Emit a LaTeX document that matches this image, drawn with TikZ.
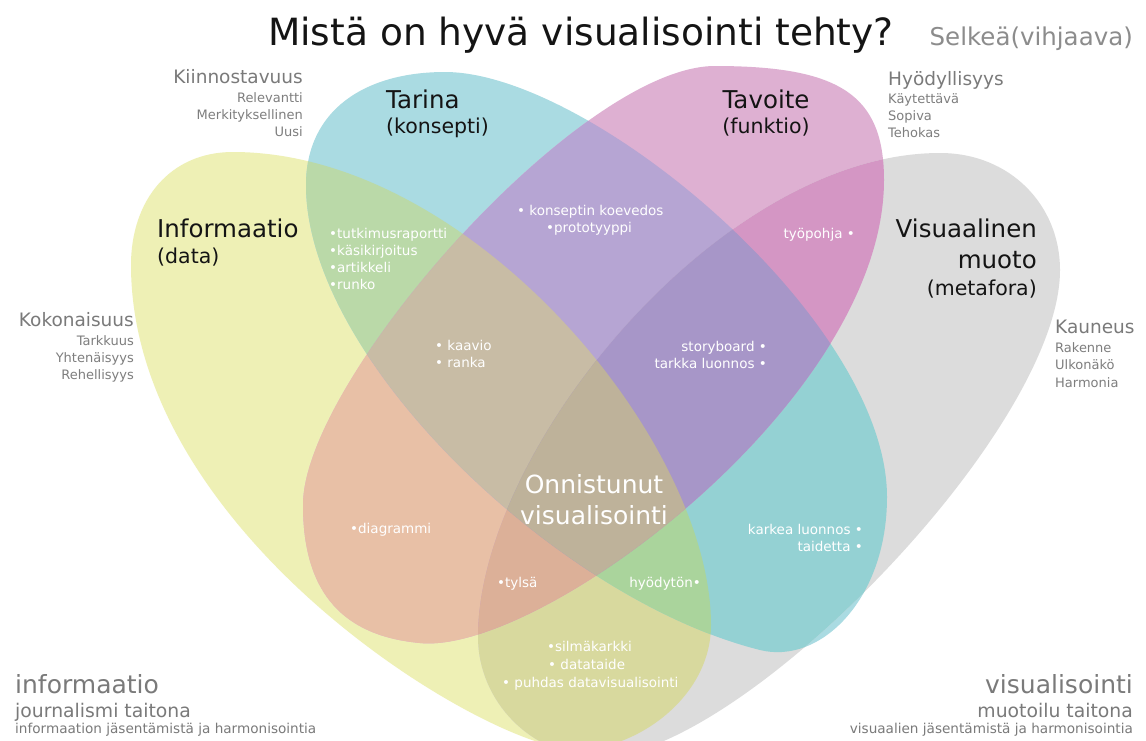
\documentclass[tikz,border=0pt]{standalone}
\usepackage{fontspec}
\setmainfont{DejaVu Sans}
% region colours: single sets, pairs, triples and the common core
\definecolor{cY}{HTML}{EEF0B5}
\definecolor{cC}{HTML}{AADBE2}
\definecolor{cP}{HTML}{DEB0D2}
\definecolor{cG}{HTML}{DCDCDC}
\definecolor{cYC}{HTML}{BAD9A8}
\definecolor{cYP}{HTML}{E8C0A6}
\definecolor{cYG}{HTML}{D8D99E}
\definecolor{cCP}{HTML}{B6A5D3}
\definecolor{cCG}{HTML}{94D1D3}
\definecolor{cPG}{HTML}{D496C4}
\definecolor{cYCP}{HTML}{C8BCA5}
\definecolor{cYCG}{HTML}{AAD49C}
\definecolor{cYPG}{HTML}{DCB098}
\definecolor{cCPG}{HTML}{A796C8}
\definecolor{cAll}{HTML}{BEB29A}
\definecolor{grayH}{HTML}{7A7A7A}
\definecolor{grayS}{HTML}{7E7E7E}
\definecolor{grayT}{HTML}{8C8C8C}
\begin{document}
\begin{tikzpicture}[x=1pt,y=-1pt,
  % the four petals
  shY/.style={insert path={(233,152) .. controls (470,152) and (711,440) .. (711,625)
    .. controls (711,705) and (620,760) .. (560,748)
    .. controls (450,726) and (131,520) .. (131,265)
    .. controls (131,200) and (170,152) .. (233,152) -- cycle}},
  shC/.style={insert path={(445,72) .. controls (590,72) and (887,320) .. (887,497)
    .. controls (887,600) and (820,665) .. (760,650)
    .. controls (560,600) and (306,360) .. (306,185)
    .. controls (306,110) and (365,72) .. (445,72) -- cycle}},
  shP/.style={insert path={(715,66) .. controls (840,66) and (884,95) .. (884,180)
    .. controls (884,400) and (540,655) .. (420,643)
    .. controls (345,636) and (303,595) .. (303,505)
    .. controls (303,380) and (580,66) .. (715,66) -- cycle}},
  shG/.style={insert path={(940,153) .. controls (1010,153) and (1060,205) .. (1060,270)
    .. controls (1060,430) and (740,757) .. (600,757)
    .. controls (530,757) and (478,700) .. (478,637)
    .. controls (478,450) and (720,153) .. (940,153) -- cycle}},
  every node/.style={inner sep=0pt},
  ttl/.style={font=\fontsize{37.5}{42}\selectfont, text=black!92},
  hd/.style={font=\fontsize{24.5}{28}\selectfont, text=black!92},
  sub/.style={font=\fontsize{20.5}{24}\selectfont, text=black!92},
  gh/.style={font=\fontsize{18.5}{22}\selectfont, text=grayH},
  gs/.style={font=\fontsize{13}{15}\selectfont, text=grayS},
  wl/.style={font=\fontsize{13.5}{16}\selectfont, text=white},
  big/.style={font=\fontsize{25}{29}\selectfont, text=white},
  ft1/.style={font=\fontsize{25}{29}\selectfont, text=grayH},
  ft2/.style={font=\fontsize{18.8}{22}\selectfont, text=grayH},
  ft3/.style={font=\fontsize{13.6}{16}\selectfont, text=grayH},
]
\useasboundingbox (0,0) rectangle (1146,740);
\fill[white] (0,0) rectangle (1146,740);

% single petals
\fill[cY, shY];
\fill[cC, shC];
\fill[cP, shP];
\fill[cG, shG];
% pairwise overlaps
\begin{scope}
  \clip[shY];
  \fill[cYC, shC];
  \fill[cYP, shP];
  \fill[cYG, shG];
\end{scope}
\begin{scope}
  \clip[shC];
  \fill[cCP, shP];
  \fill[cCG, shG];
\end{scope}
\begin{scope}
  \clip[shP];
  \fill[cPG, shG];
\end{scope}
% triple overlaps
\begin{scope}
  \clip[shY]; \clip[shC];
  \fill[cYCP, shP];
  \fill[cYCG, shG];
\end{scope}
\begin{scope}
  \clip[shY]; \clip[shP];
  \fill[cYPG, shG];
\end{scope}
\begin{scope}
  \clip[shC]; \clip[shP];
  \fill[cCPG, shG];
\end{scope}
% the common core
\begin{scope}
  \clip[shY]; \clip[shC]; \clip[shP];
  \fill[cAll, shG];
\end{scope}

% heading
\node[ttl, anchor=base west] (title) at (268,45) {Mistä on hyvä visualisointi tehty?};
\node[font=\fontsize{24.5}{28}\selectfont, text=grayT, anchor=base east] (clear) at (1133,45) {Selkeä(vihjaava)};

% petal names
\node[hd, anchor=base west] (story) at (386,108) {Tarina};
\node[sub, anchor=base west] (storysub) at (386,133) {(konsepti)};
\node[hd, anchor=base] (goal) at (766,108) {Tavoite};
\node[sub, anchor=base] (goalsub) at (766,133) {(funktio)};
\node[hd, anchor=base west] (info) at (157,237) {Informaatio};
\node[sub, anchor=base west] (infosub) at (157,263) {(data)};
\node[hd, anchor=base east] (form) at (1037,237) {Visuaalinen};
\node[hd, anchor=base east] (form2) at (1037,268) {muoto};
\node[sub, anchor=base east] (formsub) at (1037,295) {(metafora)};

% qualities around the petals
\node[gh, anchor=base east] (interest) at (303,83) {Kiinnostavuus};
\node[gs, anchor=base east] (i1) at (303,102) {Relevantti};
\node[gs, anchor=base east] (i2) at (303,119) {Merkityksellinen};
\node[gs, anchor=base east] (i3) at (303,136) {Uusi};
\node[gh, anchor=base west] (useful) at (888,85) {Hyödyllisyys};
\node[gs, anchor=base west] (u1) at (888,103) {Käytettävä};
\node[gs, anchor=base west] (u2) at (888,120) {Sopiva};
\node[gs, anchor=base west] (u3) at (888,137) {Tehokas};
\node[gh, anchor=base east] (whole) at (134,326) {Kokonaisuus};
\node[gs, anchor=base east] (w1) at (134,345) {Tarkkuus};
\node[gs, anchor=base east] (w2) at (134,362) {Yhtenäisyys};
\node[gs, anchor=base east] (w3) at (134,379) {Rehellisyys};
\node[gh, anchor=base west] (beauty) at (1055,333) {Kauneus};
\node[gs, anchor=base west] (b1) at (1055,352) {Rakenne};
\node[gs, anchor=base west] (b2) at (1055,369) {Ulkonäkö};
\node[gs, anchor=base west] (b3) at (1055,387) {Harmonia};

% overlap labels
\node[wl, anchor=base west] (r1) at (329,238) {•tutkimusraportti};
\node[wl, anchor=base west] (r2) at (329,255) {•käsikirjoitus};
\node[wl, anchor=base west] (r3) at (329,272) {•artikkeli};
\node[wl, anchor=base west] (r4) at (329,289) {•runko};
\node[wl, anchor=base west] (k1) at (517,215) {• konseptin koevedos};
\node[wl, anchor=base west] (k2) at (546,232) {•prototyyppi};
\node[wl, anchor=base east] (tp) at (855,238) {työpohja •};
\node[wl, anchor=base west] (ka1) at (435,350) {• kaavio};
\node[wl, anchor=base west] (ka2) at (435,367) {• ranka};
\node[wl, anchor=base east] (sb1) at (767,351) {storyboard •};
\node[wl, anchor=base east] (sb2) at (767,368) {tarkka luonnos •};
\node[big, anchor=base] (core1) at (594,493) {Onnistunut};
\node[big, anchor=base] (core2) at (594,524) {visualisointi};
\node[wl, anchor=base west] (dg) at (350,533) {•diagrammi};
\node[wl, anchor=base east] (kl1) at (863,534) {karkea luonnos •};
\node[wl, anchor=base east] (kl2) at (863,551) {taidetta •};
\node[wl, anchor=base west] (ty) at (497,587) {•tylsä};
\node[wl, anchor=base east] (hy) at (701,587) {hyödytön•};
\node[wl, anchor=base west] (s1) at (547,651) {•silmäkarkki};
\node[wl, anchor=base west] (s2) at (548,669) {• datataide};
\node[wl, anchor=base west] (s3) at (502,687) {• puhdas datavisualisointi};

% corner captions
\node[ft1, anchor=base west] (cl1) at (15,693) {informaatio};
\node[ft2, anchor=base west] (cl2) at (15,717) {journalismi taitona};
\node[ft3, anchor=base west] (cl3) at (15,733) {informaation jäsentämistä ja harmonisointia};
\node[ft1, anchor=base east] (cr1) at (1133,693) {visualisointi};
\node[ft2, anchor=base east] (cr2) at (1133,717) {muotoilu taitona};
\node[ft3, anchor=base east] (cr3) at (1133,733) {visuaalien jäsentämistä ja harmonisointia};
\end{tikzpicture}
\end{document}
